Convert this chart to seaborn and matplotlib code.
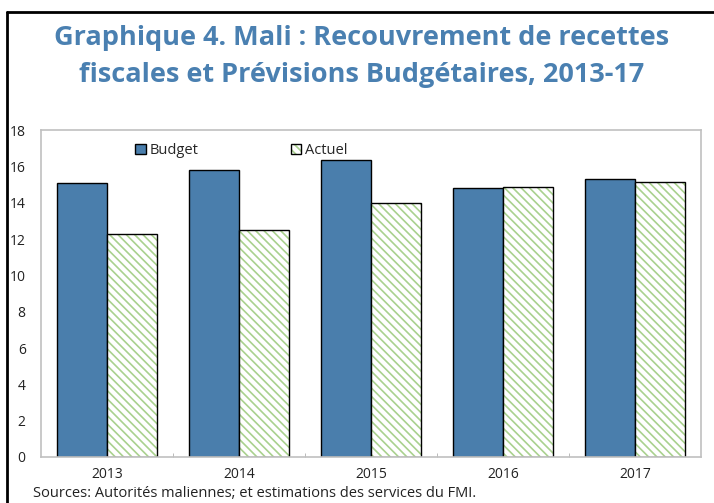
import pandas as pd
import seaborn as sns
import matplotlib.pyplot as plt
from matplotlib.patches import Rectangle, Patch
from matplotlib.lines import Line2D

years = ["2013", "2014", "2015", "2016", "2017"]
budget = [15.1, 15.8, 16.35, 14.8, 15.3]
actuel = [12.3, 12.5, 14.0, 14.85, 15.15]

BLUE = "#4a7eac"
GREEN = "#a9d18e"
TITLE = "#4a80b1"

df = pd.DataFrame({
    "annee": years * 2,
    "valeur": budget + actuel,
    "serie": ["Budget"] * len(years) + ["Actuel"] * len(years),
})

sns.set_style("white")
plt.rcParams["font.family"] = ["Open Sans", "DejaVu Sans"]
plt.rcParams["hatch.linewidth"] = 1.2

fig = plt.figure(figsize=(7.14, 5.03), dpi=100)
ax = fig.add_axes([41 / 714, 1 - 457 / 503, 660 / 714, 327 / 503])

sns.barplot(df, x="annee", y="valeur", hue="serie", palette=[BLUE, "white"],
            saturation=1, width=0.76, gap=0, edgecolor="black", linewidth=1.0,
            legend=False, ax=ax)

# green hatch on the Actuel bars, black outline drawn on top
n = len(years)
for p in ax.patches[n:2 * n]:
    p.set_facecolor("white")
    p.set_edgecolor(GREEN)
    p.set_linewidth(0)
    p.set_hatch("\\\\\\\\")
    ax.add_patch(Rectangle(p.get_xy(), p.get_width(), p.get_height(),
                           fill=False, edgecolor="black", linewidth=1.0, zorder=p.get_zorder() + 0.1))

ax.set_ylim(0, 18)
ax.set_yticks(range(0, 19, 2))
ax.set_xlim(-0.5, n - 0.5)
ax.set_xlabel("")
ax.set_ylabel("")
ax.set_xticks([i + 0.5 for i in range(n - 1)], minor=True)
ax.tick_params(axis="x", which="major", length=0, pad=7, labelsize=10, colors="#222222")
ax.tick_params(axis="x", which="minor", direction="in", length=3, color="#b0b0b0", bottom=True)
ax.tick_params(axis="y", length=0, pad=11, labelsize=10, colors="#222222")
for s in ax.spines.values():
    s.set_color("#c0c0c0")
    s.set_linewidth(1.2)

hatched = Patch(facecolor="white", edgecolor=GREEN, hatch="\\\\\\\\", linewidth=0)
outline = Patch(facecolor="none", edgecolor="black", linewidth=1.0)
handles = [Patch(facecolor=BLUE, edgecolor="black", linewidth=1.0), (hatched, outline)]
leg = ax.legend(handles, ["Budget", "Actuel"], ncols=2, loc="upper left", bbox_to_anchor=(0.123, 1.0),
                frameon=False, fontsize=10.5, handlelength=0.7, handleheight=0.7,
                handletextpad=0.3, columnspacing=6.3)

fig.text(0.507, 1 - 38 / 503, "Graphique 4. Mali : Recouvrement de recettes",
         ha="center", va="center", fontsize=19.5, fontweight="bold", color=TITLE)
fig.text(0.507, 1 - 75 / 503, "fiscales et Prévisions Budgétaires, 2013-17",
         ha="center", va="center", fontsize=19.5, fontweight="bold", color=TITLE)
fig.text(33 / 714, 1 - 486 / 503,
         "Sources: Autorités maliennes; et estimations des services du FMI.",
         ha="left", va="top", fontsize=10.5, color="#222222")

# outer frame (left and top edges only, the rest is cropped)
fig.add_artist(Line2D([7 / 714, 7 / 714], [0, 1 - 12 / 503], color="black", linewidth=2, transform=fig.transFigure))
fig.add_artist(Line2D([7 / 714, 1], [1 - 12 / 503, 1 - 12 / 503], color="black", linewidth=2, transform=fig.transFigure))

fig.savefig("out.png", dpi=100)
